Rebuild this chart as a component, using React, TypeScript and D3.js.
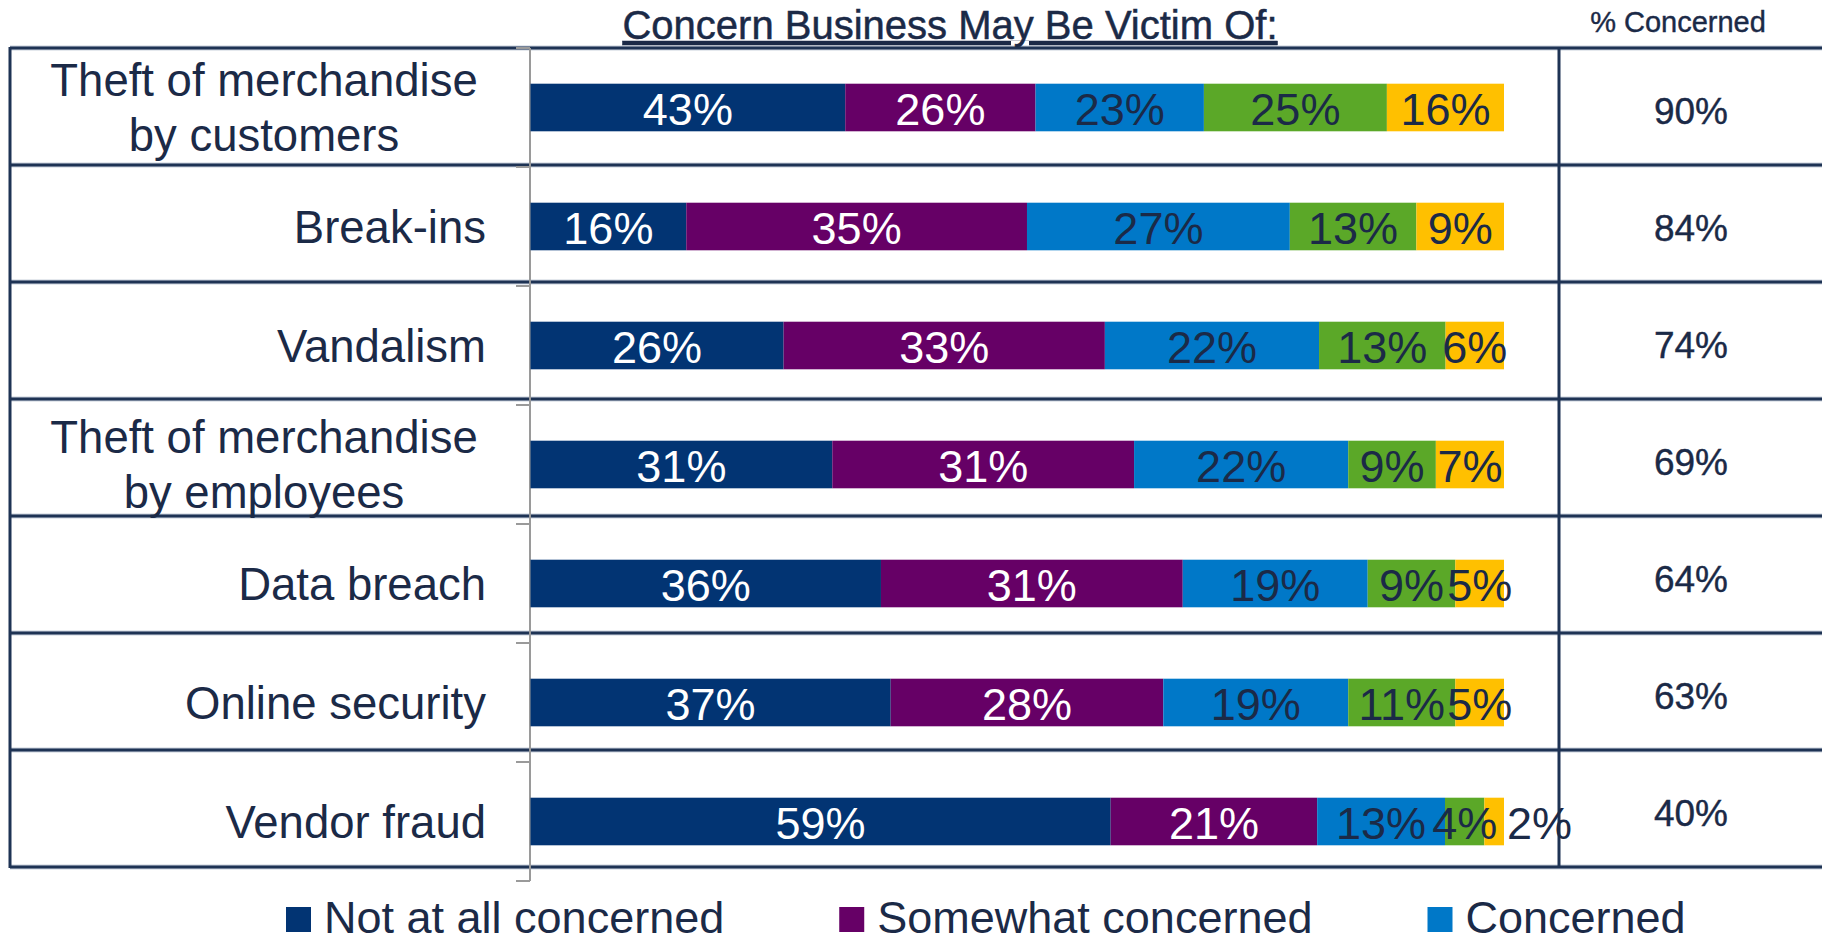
import React, { useEffect, useRef } from "react";
import * as d3 from "d3";

const categories = [
  "Theft of merchandise\nby customers",
  "Break-ins",
  "Vandalism",
  "Theft of merchandise\nby employees",
  "Data breach",
  "Online security",
  "Vendor fraud",
];
const seriesNames = [
  "Not at all concerned",
  "Somewhat concerned",
  "Concerned",
  "Very concerned",
  "Extremely concerned",
];
const notAtAll = [43, 16, 26, 31, 36, 37, 59];
const somewhat = [26, 35, 33, 31, 31, 28, 21];
const concerned = [23, 27, 22, 22, 19, 19, 13];
const veryConcerned = [25, 13, 13, 9, 9, 11, 4];
const extremely = [16, 9, 6, 7, 5, 5, 2];
const pctConcerned = [90, 84, 74, 69, 64, 63, 40];
const seriesColors = ["#023473", "#660066", "#0078C8", "#5BA828", "#FFC000"];
const labelColors = ["#FFFFFF", "#FFFFFF", "#1B2A47", "#1B2A47", "#1B2A47"];
const legendVisible = 3;

const W = 1822;
const H = 943;
const FONT = "'Liberation Sans', Arial, sans-serif";
const NAVY = "#1B2A47";

export default function App() {
  const ref = useRef<SVGSVGElement | null>(null);

  useEffect(() => {
    const svg = d3.select(ref.current);
    svg.selectAll("*").remove();

    const seriesVals = [notAtAll, somewhat, concerned, veryConcerned, extremely];
    const rows = categories.map((c, i) => {
      const r: any = { cat: c };
      seriesNames.forEach((s, j) => (r[s] = seriesVals[j][i]));
      return r;
    });
    const stacked = d3
      .stack<any>()
      .keys(seriesNames)
      .offset(d3.stackOffsetExpand)(rows);

    const x = d3.scaleLinear().domain([0, 1]).range([530.5, 1504]);
    const y = d3.scaleBand<string>().domain(categories).range([48, 881]).padding(0);
    const tableY = d3.scaleBand<string>().domain(categories).range([48, 867]).padding(0);
    const barH = y.bandwidth() * 0.4;

    // table lines
    const tableG = svg.append("g");
    const lineYs = categories.map((c) => tableY(c) as number).concat([867]);
    tableG
      .selectAll("line.h")
      .data(lineYs)
      .join("line")
      .attr("x1", 10)
      .attr("x2", W)
      .attr("y1", (d) => d)
      .attr("y2", (d) => d)
      .attr("stroke", "#C9D1DC")
      .attr("stroke-width", 5);
    tableG
      .selectAll("line.h2")
      .data(lineYs)
      .join("line")
      .attr("x1", 10)
      .attr("x2", W)
      .attr("y1", (d) => d)
      .attr("y2", (d) => d)
      .attr("stroke", "#1E3354")
      .attr("stroke-width", 3);
    [10, 1559].forEach((vx) => {
      tableG
        .append("line")
        .attr("x1", vx)
        .attr("x2", vx)
        .attr("y1", 47)
        .attr("y2", 868)
        .attr("stroke", "#1E3354")
        .attr("stroke-width", 3);
    });

    // axis (gray) with ticks at band boundaries
    const axisG = svg.append("g");
    axisG
      .append("line")
      .attr("x1", 530)
      .attr("x2", 530)
      .attr("y1", 48)
      .attr("y2", 881)
      .attr("stroke", "#9A9A9A")
      .attr("stroke-width", 2);
    const tickYs = categories.map((c) => y(c) as number).concat([881]);
    axisG
      .selectAll("line.t")
      .data(tickYs)
      .join("line")
      .attr("x1", 516)
      .attr("x2", 530)
      .attr("y1", (d) => d)
      .attr("y2", (d) => d)
      .attr("stroke", "#9A9A9A")
      .attr("stroke-width", 2);

    // bars
    const barsG = svg.append("g");
    stacked.forEach((layer, j) => {
      const g = barsG.append("g");
      g.selectAll("rect")
        .data(layer)
        .join("rect")
        .attr("x", (d) => x(d[0]))
        .attr("width", (d) => x(d[1]) - x(d[0]))
        .attr("y", (d) => (y(d.data.cat) as number) + y.bandwidth() / 2 - barH / 2)
        .attr("height", barH)
        .attr("fill", seriesColors[j]);
    });
    // bar labels
    stacked.forEach((layer, j) => {
      const g = barsG.append("g");
      g.selectAll("text")
        .data(layer)
        .join("text")
        .attr("x", (d) => {
          const v = d.data[seriesNames[j]];
          return v < 3 ? x(d[1]) + 3 : (x(d[0]) + x(d[1])) / 2;
        })
        .attr("y", (d) => (y(d.data.cat) as number) + y.bandwidth() / 2 + 17)
        .attr("text-anchor", (d) => (d.data[seriesNames[j]] < 3 ? "start" : "middle"))
        .attr("font-family", FONT)
        .attr("font-size", 45)
        .attr("fill", (d) => (d.data[seriesNames[j]] < 3 ? NAVY : labelColors[j]))
        .text((d) => `${d.data[seriesNames[j]]}%`);
    });

    // category labels
    const catG = svg.append("g");
    categories.forEach((c) => {
      const lines = c.split("\n");
      const cy = (y(c) as number) + y.bandwidth() / 2;
      const t = catG
        .append("text")
        .attr("font-family", FONT)
        .attr("font-size", 45.5)
        .attr("fill", NAVY)
        .attr("text-anchor", lines.length > 1 ? "middle" : "end");
      const lx = lines.length > 1 ? 264 : 486;
      lines.forEach((ln, k) => {
        const off = (k - (lines.length - 1) / 2) * 55;
        t.append("tspan")
          .attr("x", lx)
          .attr("y", cy + off + 16)
          .text(ln);
      });
    });

    // % concerned column
    const pctG = svg.append("g");
    pctG
      .selectAll("text")
      .data(categories)
      .join("text")
      .attr("x", 1691)
      .attr("y", (c) => (tableY(c) as number) + tableY.bandwidth() / 2 + 17)
      .attr("text-anchor", "middle")
      .attr("font-family", FONT)
      .attr("font-size", 37)
      .attr("fill", NAVY)
      .attr("stroke", NAVY)
      .attr("stroke-width", 0.4)
      .text((c, i) => `${pctConcerned[i]}%`);

    // headers
    svg
      .append("text")
      .attr("x", 950)
      .attr("y", 39)
      .attr("text-anchor", "middle")
      .attr("font-family", FONT)
      .attr("font-size", 40)
      .attr("fill", NAVY)
      .attr("stroke", NAVY)
      .attr("stroke-width", 0.5)
      .attr("text-decoration", "underline")
      .text("Concern Business May Be Victim Of:");
    svg
      .append("text")
      .attr("x", 1678)
      .attr("y", 32)
      .attr("text-anchor", "middle")
      .attr("font-family", FONT)
      .attr("font-size", 29)
      .attr("fill", NAVY)
      .attr("stroke", NAVY)
      .attr("stroke-width", 0.4)
      .text("% Concerned");

    // legend
    const legG = svg.append("g");
    let lx = 286;
    seriesNames.slice(0, legendVisible).forEach((name, j) => {
      legG
        .append("rect")
        .attr("x", lx)
        .attr("y", 907)
        .attr("width", 25)
        .attr("height", 25)
        .attr("fill", seriesColors[j]);
      const t = legG
        .append("text")
        .attr("x", lx + 38)
        .attr("y", 933)
        .attr("font-family", FONT)
        .attr("font-size", 45)
        .attr("fill", NAVY)
        .text(name);
      const w = (t.node() as SVGTextElement).getComputedTextLength();
      lx = lx + 38 + w + 115;
    });
  }, []);

  return (
    <svg
      ref={ref}
      width={W}
      height={H}
      style={{ position: "absolute", left: 0, top: 0, background: "#fff" }}
    />
  );
}
